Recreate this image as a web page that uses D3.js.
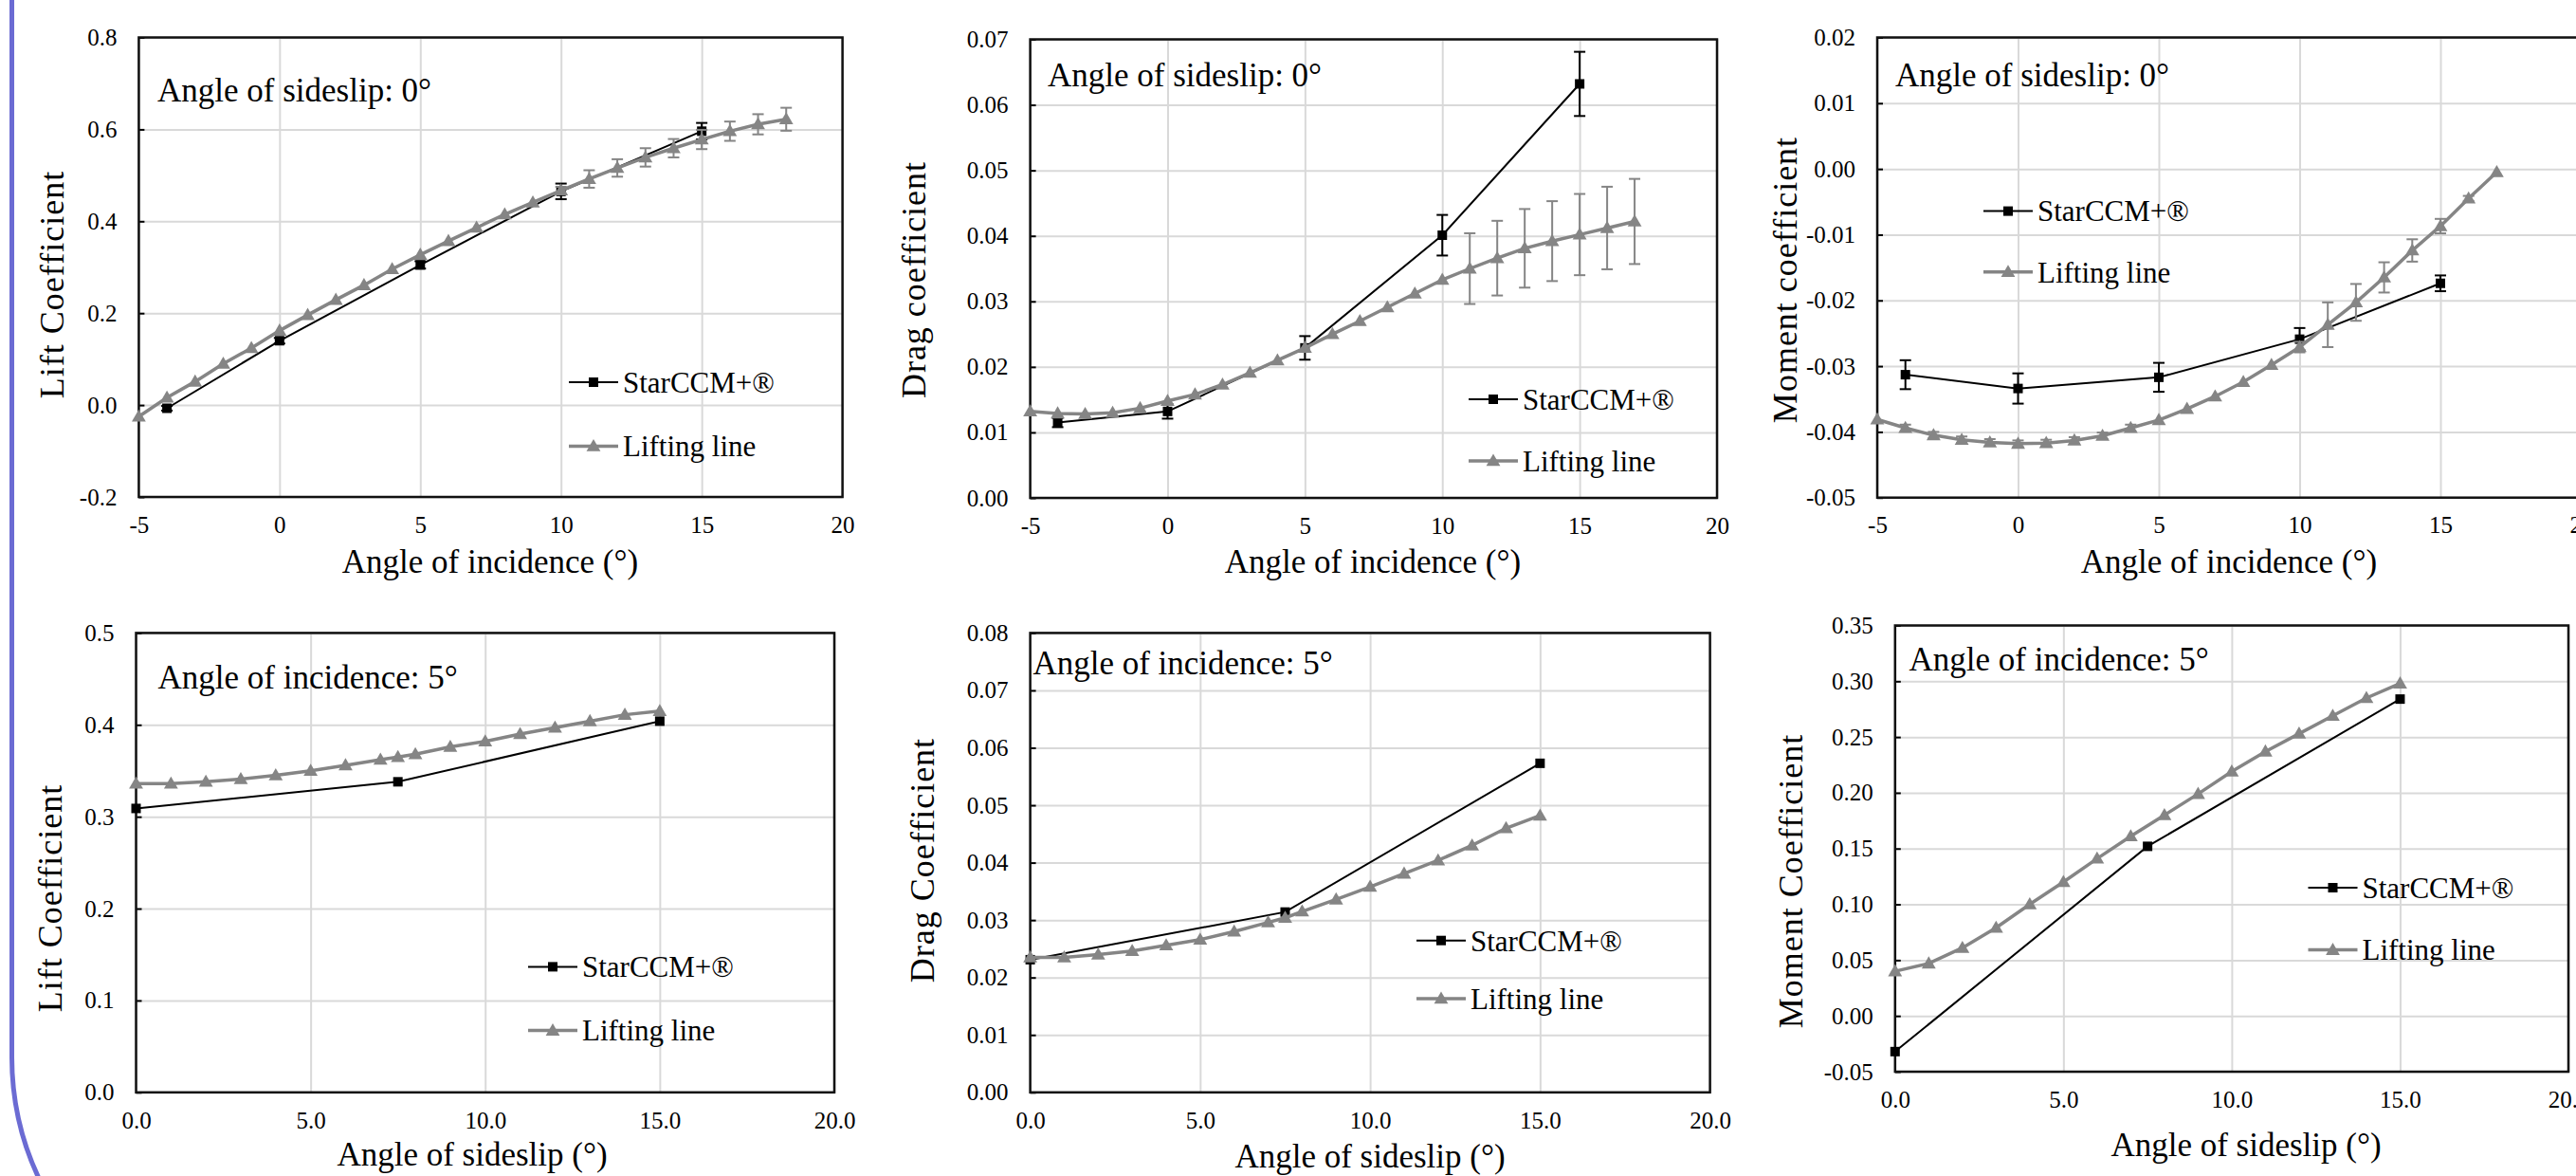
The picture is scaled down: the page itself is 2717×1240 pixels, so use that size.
<!DOCTYPE html>
<html>
<head>
<meta charset="utf-8">
<script src="https://cdn.jsdelivr.net/npm/d3@7"></script>
<style>
  body { margin: 0; background: #fff; }
  svg { display: block; font-family: "Liberation Serif", "Times New Roman", serif; }
  .grid line { stroke: #d9d9d9; stroke-width: 2; }
  .grid path { display: none; }
  .tk path { display: none; }
  .tk line { stroke: #000; stroke-width: 2; }
  .tk text { fill: #000; }
</style>
</head>
<body>
<div id="chart"></div>
<script>
// ---- data ----
// top row: sweep of incidence, sideslip = 0
var aoaCfd = [-4, 0, 5, 10, 15];
var aoaLL = [-5, -4, -3, -2, -1, 0, 1, 2, 3, 4, 5, 6, 7, 8, 9, 10, 11, 12, 13, 14, 15, 16, 17, 18];
var aoaLL2 = [-5, -4, -3, -2, -1, 0, 1, 2, 3, 4, 5, 6, 7, 8, 9, 10, 11, 12, 13, 14, 15, 16, 17];

var liftCfd = [-0.007, 0.140, 0.305, 0.465, 0.596];
var liftCfdErr = [0.005, 0.006, 0.008, 0.017, 0.018];
var liftLL = [-0.025, 0.016, 0.051, 0.090, 0.124, 0.162, 0.196, 0.229, 0.261, 0.296, 0.327, 0.357,
              0.386, 0.415, 0.441, 0.467, 0.492, 0.516, 0.539, 0.559, 0.578, 0.596, 0.611, 0.622];
var liftLLErr = [0, 0, 0, 0, 0, 0, 0, 0, 0, 0, 0, 0, 0, 0, 0, 0.008, 0.019, 0.019, 0.020, 0.020,
                 0.021, 0.021, 0.022, 0.025];

var dragCfd = [0.0115, 0.0132, 0.0229, 0.0401, 0.0632];
var dragCfdErr = [0.0007, 0.0011, 0.0018, 0.0031, 0.0049];
var dragLL = [0.0132, 0.0129, 0.0128, 0.0130, 0.0137, 0.0148, 0.0158, 0.0173, 0.0191, 0.0210, 0.0229,
              0.0250, 0.0270, 0.0291, 0.0312, 0.0333, 0.0350, 0.0366, 0.0381, 0.0392, 0.0402, 0.0412, 0.0422];
var dragLLErr = [0, 0, 0, 0, 0, 0, 0, 0, 0, 0, 0, 0, 0, 0, 0, 0, 0.0054, 0.0057, 0.0060, 0.0061,
                 0.0062, 0.0063, 0.0065];

var momCfd = [-0.0313, -0.0334, -0.0317, -0.0259, -0.0174];
var momCfdErr = [0.0022, 0.0023, 0.0022, 0.0017, 0.0012];
var momLL = [-0.0381, -0.0394, -0.0405, -0.0412, -0.0416, -0.0418, -0.0417, -0.0413, -0.0406, -0.0394,
             -0.0382, -0.0365, -0.0346, -0.0324, -0.0298, -0.0271, -0.0237, -0.0203, -0.0165, -0.0124,
             -0.0087, -0.0045, -0.0005];
var momLLErr = [0, 0.0005, 0.0005, 0.0005, 0.0005, 0.0005, 0.0005, 0.0005, 0.0005, 0.0005, 0, 0, 0, 0, 0,
                0.0008, 0.0034, 0.0028, 0.0023, 0.0017, 0.0011, 0.0004, 0];

// bottom row: sweep of sideslip, incidence = 5
var betaCfd = [0, 7.5, 15];
var betaLL = [0, 1, 2, 3, 4, 5, 6, 7, 7.5, 8, 9, 10, 11, 12, 13, 14, 15];
var betaLL2 = [0, 1, 2, 3, 4, 5, 6, 7, 8, 9, 10, 11, 12, 13, 14, 15];

var liftBCfd = [0.309, 0.338, 0.404];
var liftBLL = [0.336, 0.336, 0.338, 0.341, 0.345, 0.350, 0.356, 0.362, 0.365, 0.368, 0.376, 0.382,
               0.390, 0.397, 0.404, 0.411, 0.415];

var dragBCfd = [0.0231, 0.0314, 0.0573];
var dragBLL = [0.0235, 0.0235, 0.0240, 0.0246, 0.0256, 0.0266, 0.0280, 0.0296, 0.0304, 0.0315, 0.0336,
               0.0358, 0.0381, 0.0404, 0.0430, 0.0460, 0.0482];

var momBCfd = [-0.032, 0.152, 0.284];
var momBLL = [0.040, 0.047, 0.061, 0.079, 0.100, 0.120, 0.141, 0.161, 0.180, 0.199, 0.219, 0.237,
              0.253, 0.269, 0.285, 0.298];

// tick values
var xTicksAoa = [-5, 0, 5, 10, 15, 20];
var xTicksBeta = [0, 5, 10, 15, 20];
var yTicksLift = [-0.2, 0, 0.2, 0.4, 0.6, 0.8];
var yTicksDrag = [0, 0.01, 0.02, 0.03, 0.04, 0.05, 0.06, 0.07];
var yTicksMom = [-0.05, -0.04, -0.03, -0.02, -0.01, 0, 0.01, 0.02];
var yTicksLiftB = [0, 0.1, 0.2, 0.3, 0.4, 0.5];
var yTicksDragB = [0, 0.01, 0.02, 0.03, 0.04, 0.05, 0.06, 0.07, 0.08];
var yTicksMomB = [-0.05, 0, 0.05, 0.10, 0.15, 0.20, 0.25, 0.30, 0.35];

var seriesNames = ["StarCCM+®", "Lifting line"];

var serif = "'Liberation Serif', 'Times New Roman', serif";
var W = 2717, H = 1240;
var svg = d3.select("#chart").append("svg").attr("width", W).attr("height", H);

// purple slide border on the left with rounded corner
svg.append("path")
  .attr("d", "M12.5,-5 L12.5,1114.5 A300,300 0 0 0 50,1260")
  .attr("fill", "none")
  .attr("stroke", "#6b6bd3")
  .attr("stroke-width", 5);

var fmt1 = function(d) { return d.toFixed(1); };
var fmt2 = function(d) { return d.toFixed(2); };
var fmtInt = function(d) { return String(d); };

var panels = [
  { box: [146.4, 39.5, 888.6, 524], xDom: [-5, 20], xTicks: xTicksAoa, xFmt: fmtInt,
    yDom: [-0.2, 0.8], yTicks: yTicksLift, yFmt: fmt1,
    yTitle: "Lift Coefficient", yTitlePos: [54, 300],
    xTitle: "Angle of incidence (°)", xTitlePos: [517, 604],
    note: "Angle of sideslip: 0°", notePos: [166, 107], leg: [600, 403, 470.5],
    cfd: { x: aoaCfd, y: liftCfd, e: liftCfdErr }, ll: { x: aoaLL, y: liftLL, e: liftLLErr } },
  { box: [1086.6, 41.5, 1811, 525], xDom: [-5, 20], xTicks: xTicksAoa, xFmt: fmtInt,
    yDom: [0, 0.07], yTicks: yTicksDrag, yFmt: fmt2,
    yTitle: "Drag coefficient", yTitlePos: [963, 295],
    xTitle: "Angle of incidence (°)", xTitlePos: [1448, 604],
    note: "Angle of sideslip: 0°", notePos: [1105, 91], leg: [1549, 421, 486],
    cfd: { x: aoaCfd, y: dragCfd, e: dragCfdErr }, ll: { x: aoaLL2, y: dragLL, e: dragLLErr } },
  { box: [1980, 39.5, 2722.5, 524.7], xDom: [-5, 20], xTicks: xTicksAoa, xFmt: fmtInt,
    yDom: [-0.05, 0.02], yTicks: yTicksMom, yFmt: fmt2,
    yTitle: "Moment coefficient", yTitlePos: [1882, 295],
    xTitle: "Angle of incidence (°)", xTitlePos: [2351, 604],
    note: "Angle of sideslip: 0°", notePos: [1999, 91], leg: [2092, 222.6, 286.7],
    cfd: { x: aoaCfd, y: momCfd, e: momCfdErr }, ll: { x: aoaLL2, y: momLL, e: momLLErr } },
  { box: [143.5, 667.4, 880, 1151.8], xDom: [0, 20], xTicks: xTicksBeta, xFmt: fmt1,
    yDom: [0, 0.5], yTicks: yTicksLiftB, yFmt: fmt1,
    yTitle: "Lift Coefficient", yTitlePos: [52, 947],
    xTitle: "Angle of sideslip (°)", xTitlePos: [498, 1229],
    note: "Angle of incidence: 5°", notePos: [166.5, 726], leg: [557, 1019.4, 1086.6],
    cfd: { x: betaCfd, y: liftBCfd }, ll: { x: betaLL, y: liftBLL } },
  { box: [1086.6, 667.4, 1803.6, 1151.8], xDom: [0, 20], xTicks: xTicksBeta, xFmt: fmt1,
    yDom: [0, 0.08], yTicks: yTicksDragB, yFmt: fmt2,
    yTitle: "Drag Coefficient", yTitlePos: [972, 907],
    xTitle: "Angle of sideslip (°)", xTitlePos: [1445, 1231],
    note: "Angle of incidence: 5°", notePos: [1089.4, 711], leg: [1494, 991.7, 1053],
    cfd: { x: betaCfd, y: dragBCfd }, ll: { x: betaLL, y: dragBLL } },
  { box: [1998.8, 659.5, 2709, 1130], xDom: [0, 20], xTicks: xTicksBeta, xFmt: fmt1,
    yDom: [-0.05, 0.35], yTicks: yTicksMomB, yFmt: fmt2,
    yTitle: "Moment Coefficient", yTitlePos: [1888, 929],
    xTitle: "Angle of sideslip (°)", xTitlePos: [2369, 1219],
    note: "Angle of incidence: 5°", notePos: [2013.5, 707], leg: [2434.5, 936, 1001.6],
    cfd: { x: betaCfd, y: momBCfd }, ll: { x: betaLL2, y: momBLL } }
];

var black = "#000", grey = "#858585";
var triangle = d3.symbol().type(d3.symbolTriangle).size(95);

function drawSeries(g, s, x, y, color, width, marker) {
  var pts = s.x.map(function(v, i) { return { x: v, y: s.y[i], e: s.e ? s.e[i] : 0 }; });
  var line = d3.line().x(function(d) { return x(d.x); }).y(function(d) { return y(d.y); });
  g.append("path").datum(pts)
    .attr("d", line).attr("fill", "none")
    .attr("stroke", color).attr("stroke-width", width);

  // error bars
  var eb = g.append("g").selectAll("g").data(pts.filter(function(d) { return d.e > 0; }))
    .enter().append("g").attr("stroke", color).attr("stroke-width", 2);
  eb.append("line")
    .attr("x1", function(d) { return x(d.x); }).attr("x2", function(d) { return x(d.x); })
    .attr("y1", function(d) { return y(d.y - d.e); }).attr("y2", function(d) { return y(d.y + d.e); });
  [1, -1].forEach(function(k) {
    eb.append("line")
      .attr("x1", function(d) { return x(d.x) - 6; }).attr("x2", function(d) { return x(d.x) + 6; })
      .attr("y1", function(d) { return y(d.y + k * d.e); }).attr("y2", function(d) { return y(d.y + k * d.e); });
  });

  var m = g.append("g").selectAll("path").data(pts).enter();
  if (marker === "square") {
    m.append("rect")
      .attr("x", function(d) { return x(d.x) - 5; }).attr("y", function(d) { return y(d.y) - 5; })
      .attr("width", 10).attr("height", 10).attr("fill", color);
  } else {
    m.append("path").attr("d", triangle)
      .attr("transform", function(d) { return "translate(" + x(d.x) + "," + (y(d.y) + 1) + ")"; })
      .attr("fill", color);
  }
}

panels.forEach(function(p) {
  var x0 = p.box[0], y0 = p.box[1], x1 = p.box[2], y1 = p.box[3];
  var x = d3.scaleLinear().domain(p.xDom).range([x0, x1]);
  var y = d3.scaleLinear().domain(p.yDom).range([y1, y0]);
  var g = svg.append("g");

  // gridlines
  g.append("g").attr("class", "grid")
    .attr("transform", "translate(0," + y1 + ")")
    .call(d3.axisBottom(x).tickValues(p.xTicks).tickSize(-(y1 - y0)).tickFormat(""));
  g.append("g").attr("class", "grid")
    .attr("transform", "translate(" + x0 + ",0)")
    .call(d3.axisLeft(y).tickValues(p.yTicks).tickSize(-(x1 - x0)).tickFormat(""));

  // axes with labels (d3 puts sans-serif on the group, so reset it)
  g.append("g").attr("class", "tk")
    .attr("transform", "translate(" + x0 + ",0)")
    .call(d3.axisLeft(y).tickValues(p.yTicks).tickSize(-6).tickPadding(23).tickFormat(p.yFmt))
    .attr("font-family", serif).attr("font-size", 25)
    .selectAll("text").style("font-family", serif);
  g.append("g").attr("class", "tk")
    .attr("transform", "translate(0," + y1 + ")")
    .call(d3.axisBottom(x).tickValues(p.xTicks).tickSize(0).tickPadding(20).tickFormat(p.xFmt))
    .attr("font-family", serif).attr("font-size", 25)
    .selectAll("text").style("font-family", serif);

  // frame
  g.append("rect")
    .attr("x", x0).attr("y", y0).attr("width", x1 - x0).attr("height", y1 - y0)
    .attr("fill", "none").attr("stroke", "#111").attr("stroke-width", 2.5);

  drawSeries(g, p.cfd, x, y, black, 2, "square");
  drawSeries(g, p.ll, x, y, grey, 3.5, "triangle");

  // annotation
  g.append("text").attr("x", p.notePos[0]).attr("y", p.notePos[1])
    .attr("font-size", 35).text(p.note);

  // legend
  [[p.leg[1], black, 2, "square"], [p.leg[2], grey, 3.5, "triangle"]].forEach(function(l, i) {
    var lx = p.leg[0], ly = l[0];
    g.append("line").attr("x1", lx).attr("x2", lx + 52).attr("y1", ly).attr("y2", ly)
      .attr("stroke", l[1]).attr("stroke-width", l[2]);
    if (l[3] === "square") {
      g.append("rect").attr("x", lx + 21).attr("y", ly - 5).attr("width", 10).attr("height", 10).attr("fill", l[1]);
    } else {
      g.append("path").attr("d", triangle).attr("transform", "translate(" + (lx + 26) + "," + (ly + 1) + ")").attr("fill", l[1]);
    }
    g.append("text").attr("x", lx + 57).attr("y", ly).attr("dy", "0.35em")
      .attr("font-size", 31).text(seriesNames[i]);
  });

  // axis titles
  g.append("text").attr("x", p.xTitlePos[0]).attr("y", p.xTitlePos[1])
    .attr("text-anchor", "middle").attr("font-size", 35).text(p.xTitle);
  g.append("text")
    .attr("transform", "translate(" + p.yTitlePos[0] + "," + p.yTitlePos[1] + ") rotate(-90)")
    .attr("text-anchor", "middle").attr("dy", "0.35em")
    .attr("font-size", 36).attr("letter-spacing", 1).text(p.yTitle);
});
</script>
</body>
</html>
